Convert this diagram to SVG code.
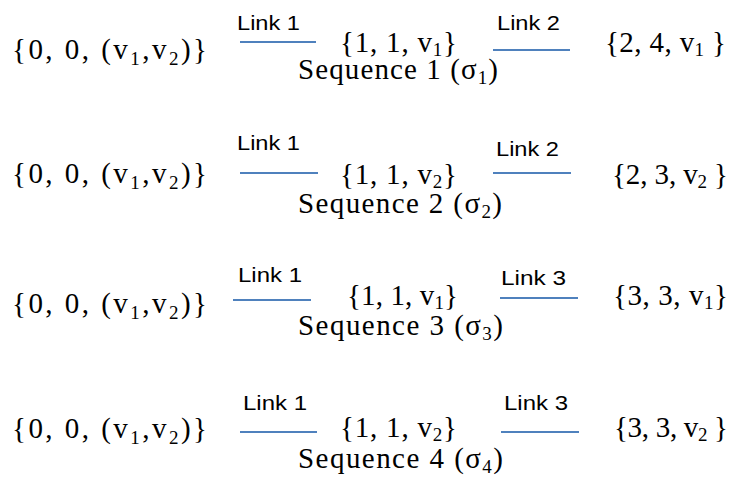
<svg xmlns="http://www.w3.org/2000/svg" width="732" height="486" viewBox="0 0 732 486">
<style>
.m{font-family:"Liberation Serif","Times New Roman",serif;font-size:29px;fill:#000}
.s{font-size:19px}
.l{font-family:"Liberation Sans",Arial,sans-serif;font-size:21px;fill:#000}
.c{stroke:#4f81bd;stroke-width:2;fill:none}
</style>
<rect width="732" height="486" fill="#fff"/>
<g id="connectors">
<line class="c" x1="240" y1="42" x2="316" y2="42"/>
<line class="c" x1="493" y1="50" x2="570" y2="50"/>
<line class="c" x1="240" y1="173" x2="318" y2="173"/>
<line class="c" x1="493" y1="173" x2="571" y2="173"/>
<line class="c" x1="233" y1="300" x2="311" y2="300"/>
<line class="c" x1="500" y1="298" x2="578" y2="298"/>
<line class="c" x1="240" y1="432" x2="317" y2="432"/>
<line class="c" x1="501" y1="432" x2="579" y2="432"/>
</g>
<g id="labels">
<text class="l" x="237" y="30" textLength="63" lengthAdjust="spacingAndGlyphs">Link 1</text>
<text class="l" x="497" y="30" textLength="63" lengthAdjust="spacingAndGlyphs">Link 2</text>
<text class="l" x="237" y="150" textLength="63" lengthAdjust="spacingAndGlyphs">Link 1</text>
<text class="l" x="496" y="156" textLength="63" lengthAdjust="spacingAndGlyphs">Link 2</text>
<text class="l" x="238" y="282" textLength="64" lengthAdjust="spacingAndGlyphs">Link 1</text>
<text class="l" x="501" y="285" textLength="65" lengthAdjust="spacingAndGlyphs">Link 3</text>
<text class="l" x="243" y="410" textLength="64" lengthAdjust="spacingAndGlyphs">Link 1</text>
<text class="l" x="504" y="410" textLength="64" lengthAdjust="spacingAndGlyphs">Link 3</text>
</g>
<g id="seq1">
<text class="m" x="12" y="59" textLength="195">{0, 0,  (v<tspan class="s" dy="6">1</tspan><tspan dy="-6">,v</tspan><tspan class="s" dy="6">2</tspan><tspan dy="-6">)}</tspan></text>
<text class="m" x="340" y="52" textLength="117">{1, 1, v<tspan class="s" dy="4">1</tspan><tspan dy="-4">}</tspan></text>
<text class="m" x="605" y="52" textLength="121">{2, 4, v<tspan class="s" dy="4">1</tspan><tspan dy="-4"> }</tspan></text>
<text class="m" x="298" y="79" textLength="200">Sequence 1 (σ<tspan class="s" dy="5">1</tspan><tspan dy="-5">)</tspan></text>
</g>
<g id="seq2">
<text class="m" x="12" y="183" textLength="195">{0, 0,  (v<tspan class="s" dy="6">1</tspan><tspan dy="-6">,v</tspan><tspan class="s" dy="6">2</tspan><tspan dy="-6">)}</tspan></text>
<text class="m" x="340" y="184" textLength="117">{1, 1, v<tspan class="s" dy="4">2</tspan><tspan dy="-4">}</tspan></text>
<text class="m" x="612" y="184" textLength="116">{2, 3, v<tspan class="s" dy="4">2</tspan><tspan dy="-4"> }</tspan></text>
<text class="m" x="298" y="213" textLength="204">Sequence 2 (σ<tspan class="s" dy="5">2</tspan><tspan dy="-5">)</tspan></text>
</g>
<g id="seq3">
<text class="m" x="12" y="313" textLength="195">{0, 0,  (v<tspan class="s" dy="6">1</tspan><tspan dy="-6">,v</tspan><tspan class="s" dy="6">2</tspan><tspan dy="-6">)}</tspan></text>
<text class="m" x="347" y="305" textLength="111">{1, 1, v<tspan class="s" dy="4">1</tspan><tspan dy="-4">}</tspan></text>
<text class="m" x="613" y="305" textLength="115">{3, 3, v<tspan class="s" dy="4">1</tspan><tspan dy="-4">}</tspan></text>
<text class="m" x="298" y="335" textLength="205">Sequence 3 (σ<tspan class="s" dy="5">3</tspan><tspan dy="-5">)</tspan></text>
</g>
<g id="seq4">
<text class="m" x="12" y="438" textLength="195">{0, 0,  (v<tspan class="s" dy="6">1</tspan><tspan dy="-6">,v</tspan><tspan class="s" dy="6">2</tspan><tspan dy="-6">)}</tspan></text>
<text class="m" x="340" y="437" textLength="117">{1, 1, v<tspan class="s" dy="4">2</tspan><tspan dy="-4">}</tspan></text>
<text class="m" x="614" y="437" textLength="114">{3, 3, v<tspan class="s" dy="4">2</tspan><tspan dy="-4"> }</tspan></text>
<text class="m" x="298" y="468" textLength="205">Sequence 4 (σ<tspan class="s" dy="5">4</tspan><tspan dy="-5">)</tspan></text>
</g>
</svg>
